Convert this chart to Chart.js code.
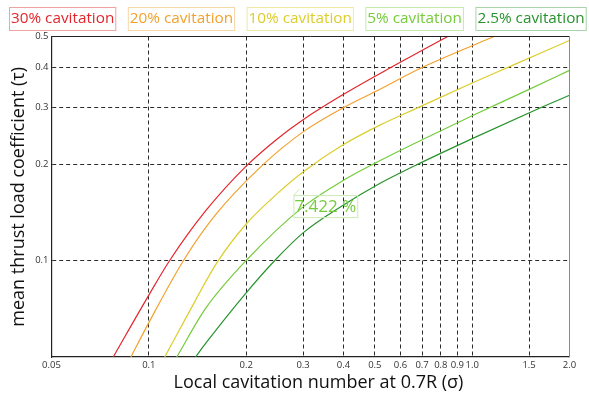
<!DOCTYPE html>
<html>
<head>
<meta charset="utf-8">
<script src="https://cdn.jsdelivr.net/npm/chart.js@4"></script>
<style>
  html, body { margin: 0; padding: 0; background: #fff; }
</style>
</head>
<body>
<canvas id="chart" width="589" height="393"></canvas>
<script>
// series names and colours
const seriesNames = ['30% cavitation', '20% cavitation', '10% cavitation', '5% cavitation', '2.5% cavitation'];
const seriesColors = ['#e3262b', '#f3a12c', '#dccd2c', '#74cb3c', '#27932c'];
const legendBorders = ['#efa3a3', '#f6d7a6', '#eee9a6', '#c6eaa9', '#a9d4aa'];

// sigma (x) and tau (y) for each curve
const sigma30 = [0.0776, 0.1, 0.116, 0.15, 0.2, 0.25, 0.3, 0.4, 0.56, 0.84];
const tau30   = [0.05, 0.078, 0.1, 0.143, 0.197, 0.24, 0.275, 0.33, 0.4, 0.5];

const sigma20 = [0.088, 0.1, 0.128, 0.16, 0.223, 0.3, 0.4, 0.5, 0.7, 1.0, 1.17];
const tau20   = [0.05, 0.064, 0.1, 0.138, 0.197, 0.252, 0.3, 0.336, 0.4, 0.468, 0.5];

const sigma10 = [0.112, 0.13, 0.163, 0.2, 0.25, 0.3, 0.4, 0.52, 0.68, 1.0, 1.3, 2.0];
const tau10   = [0.05, 0.066, 0.099, 0.13, 0.162, 0.189, 0.23, 0.265, 0.3, 0.358, 0.402, 0.486];

const sigma5 = [0.122, 0.15, 0.2, 0.3, 0.4, 0.5, 0.7, 1.0, 1.5, 2.0];
const tau5   = [0.05, 0.071, 0.1, 0.147, 0.178, 0.201, 0.238, 0.283, 0.342, 0.392];

const sigma25 = [0.1395, 0.15, 0.2, 0.246, 0.3, 0.4, 0.5, 0.667, 1.0, 1.62, 2.0];
const tau25   = [0.05, 0.0552, 0.0793, 0.1004, 0.122, 0.149, 0.1706, 0.198, 0.24, 0.299, 0.328];

const sigmaSeries = [sigma30, sigma20, sigma10, sigma5, sigma25];
const tauSeries = [tau30, tau20, tau10, tau5, tau25];

// axis ticks
const xTicks = [0.05, 0.1, 0.2, 0.3, 0.4, 0.5, 0.6, 0.7, 0.8, 0.9, 1.0, 1.5, 2.0];
const xTickLabels = ['0.05', '0.1', '0.2', '0.3', '0.4', '0.5', '0.6', '0.7', '0.8', '0.9', '1.0', '1.5', '2.0'];
const yTicks = [0.1, 0.2, 0.3, 0.4, 0.5];
const yTickLabels = ['0.1', '0.2', '0.3', '0.4', '0.5'];

const xTitle = 'Local cavitation number at 0.7R (σ)';
const yTitle = 'mean thrust load coefficient (τ)';

// the little data label on the 5% curve
const noteText = '7.422 %';
const noteSigma = 0.28;
const noteTau = 0.16;

const FONT = '"Open Sans", "Noto Sans", sans-serif';

const datasets = seriesNames.map((name, i) => ({
    label: name,
    data: sigmaSeries[i].map((s, j) => ({ x: s, y: tauSeries[i][j] })),
    borderColor: seriesColors[i],
    backgroundColor: seriesColors[i],
    borderWidth: 1.2,
    pointRadius: 0,
    fill: false,
    cubicInterpolationMode: 'monotone'
}));

// legend boxes above the plot, the frame on top/right, x title and the data label
const boxLegend = {
    id: 'boxLegend',
    afterDraw(chart) {
        const ctx = chart.ctx;
        const area = chart.chartArea;
        ctx.save();

        ctx.lineWidth = 1;
        ctx.strokeStyle = '#222';
        ctx.beginPath();
        ctx.moveTo(area.left, area.top);
        ctx.lineTo(area.right, area.top);
        ctx.stroke();
        ctx.strokeStyle = '#8a8a8a';
        ctx.beginPath();
        ctx.moveTo(area.right, area.top);
        ctx.lineTo(area.right, area.bottom);
        ctx.stroke();

        // x axis title sits a little right of the plot centre in the original
        ctx.font = '18px ' + FONT;
        ctx.fillStyle = '#111';
        ctx.textAlign = 'center';
        ctx.textBaseline = 'middle';
        ctx.fillText(xTitle, (area.left + area.right) / 2 + 8, 383);
        ctx.textAlign = 'left';

        ctx.font = '15.3px ' + FONT;
        let x = 9;
        chart.data.datasets.forEach((ds, i) => {
            const w = ctx.measureText(ds.label).width + 3;
            ctx.strokeStyle = legendBorders[i];
            ctx.strokeRect(x + 0.5, 7.5, w, 23);
            ctx.fillStyle = ds.borderColor;
            ctx.fillText(ds.label, x + 2, 19);
            x += w + 12.5;
        });

        const nx = chart.scales.x.getPixelForValue(noteSigma);
        const ny = chart.scales.y.getPixelForValue(noteTau);
        ctx.font = '17px ' + FONT;
        const nw = ctx.measureText(noteText).width + 2;
        ctx.strokeStyle = '#cdebb6';
        ctx.strokeRect(nx + 0.5, ny + 0.5, nw, 22);
        ctx.beginPath();
        ctx.moveTo(nx + 0.5, ny);
        ctx.lineTo(nx + 6, ny - 6);
        ctx.stroke();
        ctx.fillStyle = '#74cb3c';
        ctx.fillText(noteText, nx + 1, ny + 12);

        ctx.restore();
    }
};

const edgeless = (edges) => (c) =>
    (c.tick && edges.includes(c.tick.value)) ? 'rgba(0,0,0,0)' : '#2b2b2b';

new Chart(document.getElementById('chart'), {
    type: 'line',
    data: { datasets },
    plugins: [boxLegend],
    options: {
        responsive: false,
        animation: false,
        layout: { padding: { top: 36.5, right: 19.5, bottom: 0, left: 0 } },
        plugins: { legend: { display: false }, tooltip: { enabled: false } },
        scales: {
            x: {
                type: 'logarithmic',
                min: 0.05,
                max: 2.0,
                afterBuildTicks: (scale) => { scale.ticks = xTicks.map(v => ({ value: v })); },
                afterFit: (scale) => { scale.height = 36; },
                ticks: {
                    autoSkip: false,
                    maxRotation: 0,
                    padding: 3,
                    color: '#333',
                    font: { family: FONT, size: 9.5 },
                    callback: (v, i) => xTickLabels[i]
                },
                grid: { color: edgeless([0.05, 2.0]), lineWidth: 1, drawTicks: false },
                border: { color: '#222', width: 1.2, dash: [4, 3] }
            },
            y: {
                type: 'logarithmic',
                min: 0.05,
                max: 0.5,
                afterBuildTicks: (scale) => { scale.ticks = yTicks.map(v => ({ value: v })); },
                afterFit: (scale) => { scale.width = 51.5; },
                ticks: {
                    autoSkip: false,
                    padding: 3,
                    color: '#333',
                    font: { family: FONT, size: 9.5 },
                    callback: (v, i) => yTickLabels[i]
                },
                grid: { color: edgeless([0.5]), lineWidth: 1, drawTicks: false },
                border: { color: '#222', width: 1.2, dash: [4, 3] },
                title: {
                    display: true,
                    text: yTitle,
                    color: '#111',
                    font: { family: FONT, size: 18 },
                    padding: { top: 8, bottom: 0 }
                }
            }
        }
    }
});
</script>
</body>
</html>
